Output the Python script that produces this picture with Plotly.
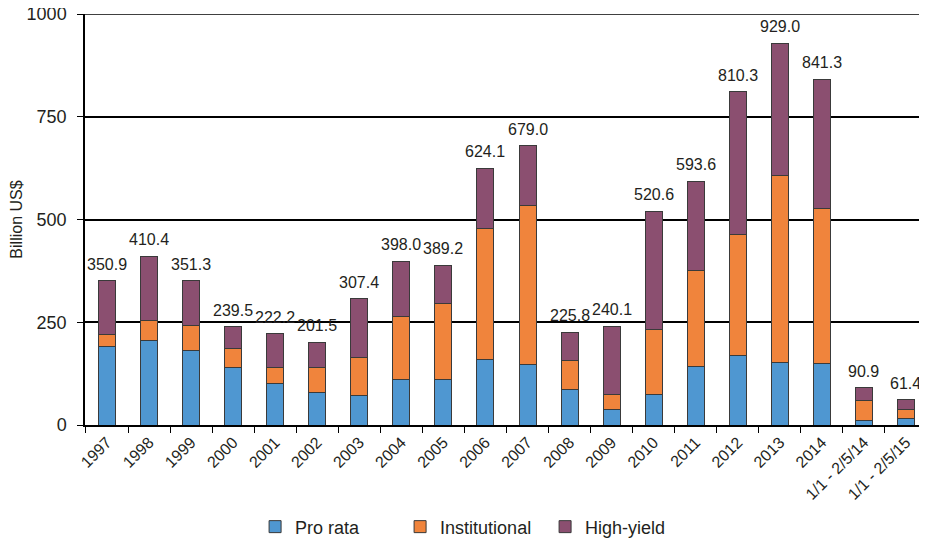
import plotly.graph_objects as go

categories = ["1997", "1998", "1999", "2000", "2001", "2002", "2003", "2004", "2005",
              "2006", "2007", "2008", "2009", "2010", "2011", "2012", "2013", "2014",
              "1/1 - 2/5/14", "1/1 - 2/5/15"]
pro_rata = [192.2, 206.4, 181.8, 139.1, 102.1, 79.0, 71.9, 110.7, 111.0,
            158.5, 148.3, 85.6, 36.6, 73.9, 142.9, 168.9, 150.9, 148.8, 10.6, 16.6]
institutional = [28.0, 48.0, 61.4, 46.1, 37.6, 60.0, 91.6, 152.2, 183.6,
                 320.1, 385.7, 70.9, 37.5, 157.6, 233.1, 294.7, 455.2, 378.7, 49.2, 21.6]
totals = [350.9, 410.4, 351.3, 239.5, 222.2, 201.5, 307.4, 398.0, 389.2,
          624.1, 679.0, 225.8, 240.1, 520.6, 593.6, 810.3, 929.0, 841.3, 90.9, 61.4]
high_yield = [round(t - p - i, 1) for t, p, i in zip(totals, pro_rata, institutional)]
total_labels = [f"{t:.1f}" for t in totals]

y_ticks = [0, 250, 500, 750, 1000]

FONT = "Liberation Sans, Arial, sans-serif"
TXT = "#231F20"
EDGE = dict(color="#3a3a3a", width=1)

fig = go.Figure()
fig.add_trace(go.Bar(name="Pro rata", x=categories, y=pro_rata,
                     marker=dict(color="#4F97D1", line=EDGE)))
fig.add_trace(go.Bar(name="Institutional", x=categories, y=institutional,
                     marker=dict(color="#F0843C", line=EDGE)))
fig.add_trace(go.Bar(name="High-yield", x=categories, y=high_yield,
                     marker=dict(color="#8B4F70", line=EDGE)))

for i, (t, lab) in enumerate(zip(totals, total_labels)):
    fig.add_annotation(x=i, y=t, xref="x", yref="y", text=lab, showarrow=False,
                       yanchor="bottom", yshift=6,
                       font=dict(family=FONT, size=16, color=TXT))

fig.update_layout(
    barmode="stack",
    bargap=0.595,
    width=919, height=534,
    margin=dict(l=77, r=0, t=6, b=117, autoexpand=False),
    paper_bgcolor="white", plot_bgcolor="white",
    font=dict(family=FONT, size=16, color=TXT),
    showlegend=True,
    legend=dict(orientation="h", x=0.202, xanchor="left", y=-0.248, yanchor="middle",
                font=dict(family=FONT, size=18, color=TXT), entrywidth=100,
                itemwidth=30, traceorder="normal"),
    xaxis=dict(type="category", tickangle=-45, tickson="boundaries", ticks="outside",
               ticklen=6, tickcolor="black", showline=True, linecolor="black", linewidth=1.5,
               tickfont=dict(family=FONT, size=16, color=TXT), showgrid=False),
    yaxis=dict(range=[0, 1000], tickvals=y_ticks, ticks="outside", ticklen=6,
               tickcolor="black", showline=True, linecolor="black", linewidth=1.5,
               showgrid=True, gridcolor="black", gridwidth=1.5, zeroline=False,
               ticklabelstandoff=7, ticklabeloverflow="allow",
               tickfont=dict(family=FONT, size=18, color=TXT),
               title=dict(text="Billion US$", font=dict(family=FONT, size=16, color=TXT),
                          standoff=12)),
)
fig.add_hline(y=1000, line=dict(color="black", width=1.5))

fig.write_html("out.html")
